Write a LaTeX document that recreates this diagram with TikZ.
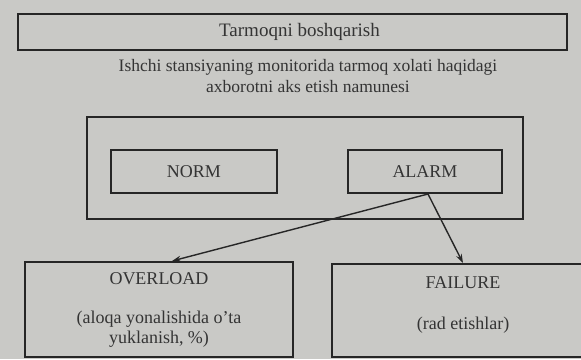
\documentclass[tikz,border=0pt]{standalone}
\usepackage{fontspec}
\setmainfont{Liberation Serif}
\usetikzlibrary{arrows.meta}
\definecolor{paper}{RGB}{201,201,198}
\definecolor{ink}{RGB}{38,38,38}
\definecolor{txt}{RGB}{52,52,52}
\tikzset{
  boxnode/.style={draw=ink, line width=2pt, rectangle, inner sep=0pt, text=txt,
    font=\fontsize{18}{20}\selectfont, align=center},
  plaintext/.style={text=txt, font=\fontsize{17.5}{21}\selectfont, align=center, inner sep=0pt},
  link/.style={draw=ink, line width=1.4pt, -{Stealth[length=9pt,width=6pt]}}
}
\begin{document}
\begin{tikzpicture}[x=1pt,y=-1pt]
\useasboundingbox (0,0) rectangle (581,359);
\clip (0,0) rectangle (581,359);
\fill[paper] (0,0) rectangle (581,359);
% title box
\node[boxnode, minimum width=549pt, minimum height=36pt, font=\fontsize{19}{21}\selectfont] (title) at (292.5,31.5) {\hspace*{14pt}Tarmoqni boshqarish};
% caption
\node[plaintext] (cap) at (308,76.5) {Ishchi stansiyaning monitorida tarmoq xolati haqidagi\\axborotni aks etish namunesi};
% panel
\node[boxnode, minimum width=436pt, minimum height=102pt] (panel) at (305,168) {};
\node[boxnode, minimum width=166pt, minimum height=43pt] (norm) at (194,171.5) {NORM};
\node[boxnode, minimum width=154pt, minimum height=43pt] (alarm) at (425,171.5) {ALARM};
% bottom boxes
\node[boxnode, minimum width=268pt, minimum height=95pt] (ovl) at (159,309.5)
  {OVERLOAD\\[19pt](aloqa yonalishida o'ta\\yuklanish, \%)};
\node[boxnode, minimum width=262pt, minimum height=93pt] (fail) at (463,310.5)
  {FAILURE\\[21pt](rad etishlar)\\[-12pt]\strut};
% arrows
\coordinate (src) at ([xshift=3pt]alarm.south);
\draw[link] (src) -- ([xshift=13pt]ovl.north);
\draw[link] (src) -- (fail.north);
\end{tikzpicture}
\end{document}
